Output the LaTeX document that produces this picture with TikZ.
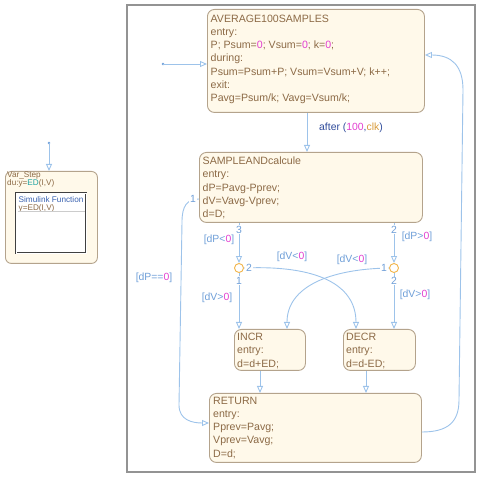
\documentclass[tikz,border=0pt]{standalone}
\usepackage{fontspec}
\setmainfont{Liberation Sans}
\usetikzlibrary{arrows.meta,calc}
\definecolor{sfill}{HTML}{FFF9EA}
\definecolor{sdraw}{HTML}{B4A38C}
\definecolor{stext}{HTML}{8C6A46}
\definecolor{tline}{HTML}{9DC3EA}
\definecolor{tlab}{HTML}{6F9FD8}
\definecolor{tnum}{HTML}{E23FD0}
\definecolor{jcol}{HTML}{F2B54A}
\definecolor{dkblue}{HTML}{2E4A9A}
\definecolor{clkcol}{HTML}{D89A3A}
\definecolor{edcol}{HTML}{1FA3A3}
\definecolor{sfblue}{HTML}{3A62B0}
\newcommand\numc[1]{\textcolor{tnum}{#1}}
\tikzset{
 stbox/.style={draw=sdraw, fill=sfill, rounded corners=7pt, line width=0.9pt, inner sep=0, anchor=north west},
 sttext/.style={text=stext, font=\fontsize{10.6}{13.3}\selectfont, align=left, anchor=north west, inner sep=0},
 smalltext/.style={font=\fontsize{8.2}{8}\selectfont, align=left, anchor=north west, inner sep=0},
 trans/.style={draw=tline, line width=0.9pt, -{Triangle[open,length=7pt,width=6pt]}},
 tl/.style={text=tlab, font=\fontsize{10.4}{12}\selectfont, inner sep=0},
 ord/.style={tl, fill=white, inner sep=0.8pt},
 junc/.style={circle, draw=jcol, fill=white, line width=0.9pt, minimum size=9pt, inner sep=0},
}
\begin{document}
\begin{tikzpicture}[x=1pt,y=-1pt]
\useasboundingbox (0,0) rectangle (480,478);
% chart frame
\draw[draw=gray!85, line width=1.2pt] (127,5) rectangle (475,472);

% states
\node[stbox, minimum width=217pt, minimum height=103pt] (avg) at (207,9) {};
\node[sttext] (avgt) at (210.5,14.5) {AVERAGE100SAMPLES\\entry:\\P; Psum=\numc{0}; Vsum=\numc{0}; k=\numc{0};\\during:\\Psum=Psum+P; Vsum=Vsum+V; k++;\\exit:\\Pavg=Psum/k; Vavg=Vsum/k;};

\node[stbox, minimum width=223pt, minimum height=70pt] (samp) at (199,152) {};
\node[sttext] (sampt) at (202.5,156.6) {SAMPLEANDcalcule\\entry:\\dP=Pavg-Pprev;\\dV=Vavg-Vprev;\\d=D;};

\node[stbox, minimum width=71pt, minimum height=41pt] (incr) at (234,329) {};
\node[sttext] (incrt) at (237,333) {INCR\\entry:\\d=d+ED;};

\node[stbox, minimum width=72pt, minimum height=41pt] (decr) at (343,329) {};
\node[sttext] (decrt) at (346,333) {DECR\\entry:\\d=d-ED;};

\node[stbox, minimum width=212pt, minimum height=69pt] (ret) at (209,393) {};
\node[sttext] (rett) at (213,396.6) {RETURN\\entry:\\Pprev=Pavg;\\Vprev=Vavg;\\D=d;};

% junctions
\node[junc] (j1) at (239,268) {};
\node[junc] (j2) at (394,268) {};

% helper coordinates
\coordinate (d0) at (163,64);
\coordinate (xa) at (307,0);
\coordinate (xi) at (260,0);
\coordinate (xd) at (366,0);
\path (samp.north west) ++(0,47) coordinate (s1);
\path (ret.north west) ++(0,30) coordinate (r1);
\path (ret.north east) ++(0,39) coordinate (r2);
\path (avg.north east) ++(0,46) coordinate (a2);

% default transition
\fill[tlab] (d0) circle (1.3pt);
\draw[trans] (d0) -- (d0 -| avg.west);

% AVERAGE -> SAMPLE
\draw[trans] (avg.south -| xa) -- (samp.north -| xa);
\node[tl, anchor=west] (aftl) at (319,128) {\textcolor{dkblue}{after} \textcolor{dkblue}{(}\numc{100}\textcolor{dkblue}{,}\textcolor{clkcol}{clk}\textcolor{dkblue}{)}};

% SAMPLE -> junctions
\draw[trans] (samp.south -| j1) -- (j1.north);
\draw[trans] (samp.south -| j2) -- (j2.north);
\node[ord] (o3) at (239,229.5) {3};
\node[ord] (o2r) at (394,229.5) {2};
\node[tl] (dpl) at (219,240) {[dP<\numc{0}]};
\node[tl] (dpg) at (417,237) {[dP>\numc{0}]};

% junction -> states
\draw[trans] (j1.south) -- (incr.north -| j1);
\draw[trans] (j2.south) -- (decr.north -| j2);
\draw[trans] (j1.east) .. controls +(72,-3) and +(0,-45) .. (decr.north -| 356,0);
\draw[trans] (j2.west) .. controls +(-60,1) and +(0,-42) .. (incr.north -| 287,0);
\node[ord] (o1l) at (239,280.5) {1};
\node[ord] (o2l) at (249,268) {2};
\node[ord] (o1r) at (384,268) {1};
\node[ord] (o2b) at (394,281) {2};
\node[tl] (dvgl) at (217,298) {[dV>\numc{0}]};
\node[tl] (dvgr) at (415,295) {[dV>\numc{0}]};
\node[tl] (dvll) at (292,257) {[dV<\numc{0}]};
\node[tl] (dvlr) at (352,260) {[dV<\numc{0}]};

% INCR/DECR -> RETURN
\draw[trans] (incr.south -| xi) -- (ret.north -| xi);
\draw[trans] (decr.south -| xd) -- (ret.north -| xd);

% SAMPLE -> RETURN [dP==0]
\draw[trans] (s1) .. controls (187,199) and (182,206) .. (182,222) -- (179,405) .. controls (179,420) and (192,423) .. (r1);
\node[ord] (o1s) at (193,199) {1};
\node[tl] (dpe) at (154,278) {[dP==\numc{0}]};

% RETURN -> AVERAGE
\draw[trans] (r2) .. controls (448,432) and (459,422) .. (459,400) -- (463,90) .. controls (463,66) and (452,55) .. (a2);

% Var_Step with Simulink function
\coordinate (d1) at (49,143);
\node[stbox, rounded corners=6pt, minimum width=92pt, minimum height=92pt] (vs) at (5,171) {};
\fill[tlab] (d1) circle (1.3pt);
\draw[trans] (d1) -- (d1 |- vs.north);
\node[smalltext, text=stext] (vst) at (7,172) {Var\_Step\\du:y=\textcolor{edcol}{ED}(I,V)};
\node[draw=black!75, double=white, double distance=0.8pt, line width=0.6pt, fill=white, minimum width=70pt, minimum height=60pt, anchor=north west, inner sep=0] (sf) at (16,193) {};
\node[smalltext] (sft) at (18.5,196) {\textcolor{sfblue}{Simulink Function}\\\textcolor{stext}{y=ED(I,V)}};
\draw[gray!40, line width=0.5pt] ($(sf.north west)+(1.5,18)$) -- ($(sf.north east)+(-1.5,18)$);
\end{tikzpicture}
\end{document}
